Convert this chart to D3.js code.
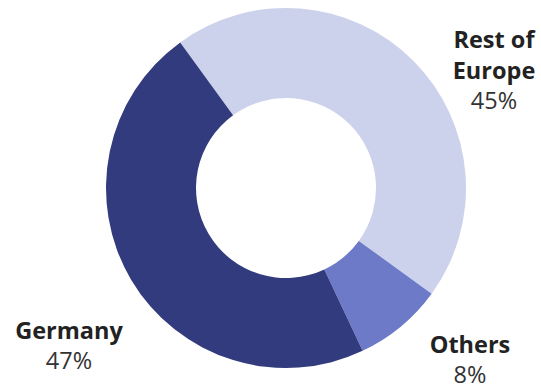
<!DOCTYPE html>
<html>
<head>
<meta charset="utf-8">
<script src="https://cdn.jsdelivr.net/npm/d3@7"></script>
<style>
  body { margin: 0; background: #fff; }
  svg { display: block; font-family: "Open Sans", sans-serif; }
</style>
</head>
<body>
<svg width="541" height="390"></svg>
<script>
var labels = ["Rest of Europe", "Others", "Germany"];
var values = [45, 8, 47];
var colors = ["#cdd2ec", "#6c7ac7", "#323b7e"];

var svg = d3.select("svg"),
    width = +svg.attr("width"),
    height = +svg.attr("height");

var cx = 286, cy = 188, outer = 180, inner = 90;

var pie = d3.pie()
    .sort(null)
    .startAngle(-0.2 * Math.PI)
    .endAngle(1.8 * Math.PI);

var arc = d3.arc()
    .innerRadius(inner)
    .outerRadius(outer);

var g = svg.append("g")
    .attr("transform", "translate(" + cx + "," + cy + ")");

g.selectAll("path")
  .data(pie(values))
  .enter().append("path")
    .attr("d", arc)
    .attr("fill", function(d, i) { return colors[i]; });

// label positions (name lines, then percentage)
var labelPos = [
  {x: 494, y: 48, lines: ["Rest of", "Europe"]},
  {x: 470, y: 353, lines: ["Others"]},
  {x: 69, y: 339, lines: ["Germany"]}
];

labelPos.forEach(function(p, i) {
  var t = svg.append("text")
      .attr("text-anchor", "middle")
      .attr("x", p.x)
      .attr("y", p.y);
  p.lines.forEach(function(line, j) {
    t.append("tspan")
        .attr("x", p.x)
        .attr("dy", j ? 31 : 0)
        .attr("font-weight", 700)
        .attr("font-size", 23.5)
        .attr("fill", "#222")
        .text(line);
  });
  t.append("tspan")
      .attr("x", p.x)
      .attr("dy", 30)
      .attr("font-size", 23.5)
      .attr("fill", "#333")
      .text(values[i] + "%");
});
</script>
</body>
</html>
